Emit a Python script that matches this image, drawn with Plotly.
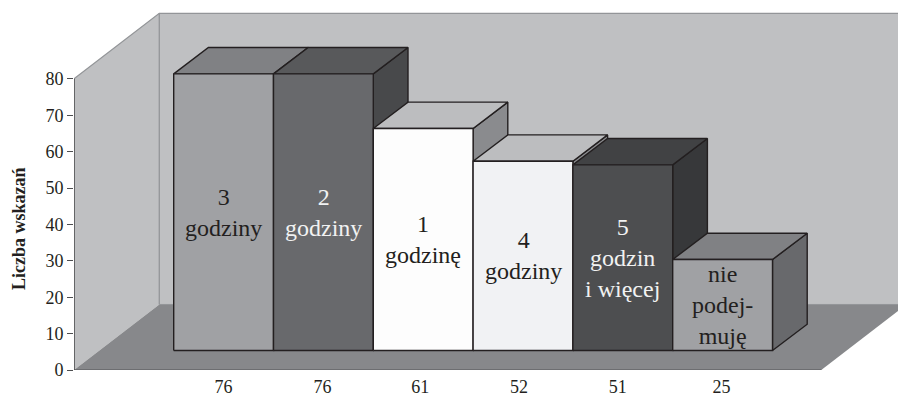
import plotly.graph_objects as go

# Survey results: number of answers per category, in chart order
values = [76, 76, 61, 52, 51, 25]
bar_labels = ["3<br>godziny", "2<br>godziny", "1<br>godzinę", "4<br>godziny",
              "5<br>godzin<br>i więcej", "nie<br>podej-<br>muję"]
tick_labels = ["76", "76", "61", "52", "51", "25"]
y_ticks = [0, 10, 20, 30, 40, 50, 60, 70, 80]

front_colors = ["#a0a1a4", "#68696c", "#fdfdfd", "#f1f2f4", "#4d4e50", "#a0a1a4"]
top_colors = ["#808184", "#58595b", "#bcbdbf", "#bcbdbf", "#414244", "#808184"]
side_colors = ["#68696c", "#48494b", "#8a8b8e", "#8a8b8e", "#37383a", "#68696c"]
text_colors = ["#231f20", "#f1f2f2", "#231f20", "#231f20", "#f1f2f2", "#231f20"]

# Pixel layout of the plotting frame and its scales
WIDTH, HEIGHT = 898, 397
LEFT, BOTTOM_MARGIN = 74, 27
PX_PER_UNIT = 3.64
PX_PER_SLOT = 99.8
FIRST_BAR_PX = 173.7
PLOT_H = HEIGHT - BOTTOM_MARGIN
SERIF = "'Times New Roman', 'Liberation Serif', Times, serif"

x_min = (LEFT - FIRST_BAR_PX) / PX_PER_SLOT
x_max = (WIDTH - FIRST_BAR_PX) / PX_PER_SLOT
y_max = PLOT_H / PX_PER_UNIT

# Oblique projection: depth offsets expressed in axis units
BAR_DX, BAR_DY = 34.7 / PX_PER_SLOT, 26.3 / PX_PER_UNIT
WALL_DX, WALL_DY = 85.3 / PX_PER_SLOT, 18.0
BAR_BASE = 5.36
FLOOR_RIGHT = x_min + 747.3 / PX_PER_SLOT
WALL_HEIGHT = 80
tick_positions = [0.5, 1.49, 2.47, 3.46, 4.45, 5.49]

EDGE = "#231f20"
WALL = "#bfc0c2"
WALL_EDGE = "#939598"
FLOOR = "#87888b"

fig = go.Figure()


def polygon(xs, ys, fill, line=EDGE, width=1.4):
    fig.add_trace(go.Scatter(
        x=xs + xs[:1], y=ys + ys[:1], mode="lines", fill="toself", fillcolor=fill,
        line=dict(color=line, width=width), hoverinfo="skip", showlegend=False,
        cliponaxis=False if line != FLOOR else True,
    ))


def segment(xs, ys, color, width):
    fig.add_trace(go.Scatter(
        x=xs, y=ys, mode="lines", line=dict(color=color, width=width),
        hoverinfo="skip", showlegend=False, cliponaxis=False,
    ))


# Back wall, side wall and floor
polygon([x_min + WALL_DX, x_max + 1, x_max + 1, x_min + WALL_DX],
        [WALL_DY + WALL_HEIGHT, WALL_DY + WALL_HEIGHT, WALL_DY, WALL_DY],
        WALL, line=WALL, width=0)
polygon([x_min, x_min + WALL_DX, x_min + WALL_DX, x_min],
        [WALL_HEIGHT, WALL_HEIGHT + WALL_DY, WALL_DY, 0],
        WALL, line=WALL, width=0)
polygon([x_min, FLOOR_RIGHT, FLOOR_RIGHT + WALL_DX, x_min + WALL_DX],
        [0, 0, WALL_DY, WALL_DY],
        FLOOR, line=FLOOR, width=0)

segment([x_min, x_min + WALL_DX, x_max], [WALL_HEIGHT, WALL_HEIGHT + WALL_DY, WALL_HEIGHT + WALL_DY],
        WALL_EDGE, 1.3)
segment([x_min + WALL_DX, x_min + WALL_DX], [WALL_DY, WALL_HEIGHT + WALL_DY], WALL_EDGE, 1.3)
segment([x_min + WALL_DX, x_max], [WALL_DY, WALL_DY], WALL_EDGE, 1)
segment([x_min, FLOOR_RIGHT], [0, 0], "#6d6e71", 1.8)
segment([x_min, x_min], [0, WALL_HEIGHT], "#4d4e50", 1.6)

# Boxes run left to right so each front face covers its neighbour's side
for i, v in enumerate(values):
    x0, x1 = i, i + 1
    y0, y1 = BAR_BASE, BAR_BASE + v
    polygon([x1, x1 + BAR_DX, x1 + BAR_DX, x1],
            [y0, y0 + BAR_DY, y1 + BAR_DY, y1], side_colors[i])
    polygon([x0, x0 + BAR_DX, x1 + BAR_DX, x1],
            [y1, y1 + BAR_DY, y1 + BAR_DY, y1], top_colors[i])
    polygon([x0, x1, x1, x0], [y0, y0, y1, y1], front_colors[i])
    fig.add_annotation(
        x=i + 0.5, y=BAR_BASE + v / 2, text=bar_labels[i], showarrow=False,
        font=dict(family=SERIF, size=24, color=text_colors[i]),
        xanchor="center", yanchor="middle", align="center",
    )

fig.add_annotation(
    xref="paper", yref="paper", x=-0.0675, y=0.382, text="<b>Liczba wskazań</b>",
    textangle=-90, showarrow=False, xanchor="center", yanchor="middle",
    font=dict(family=SERIF, size=18, color=EDGE),
)

fig.update_layout(
    width=WIDTH, height=HEIGHT,
    margin=dict(l=LEFT, r=0, t=0, b=BOTTOM_MARGIN, autoexpand=False),
    paper_bgcolor="white", plot_bgcolor="white",
    showlegend=False,
    font=dict(family=SERIF, color=EDGE),
    xaxis=dict(
        range=[x_min, x_max], showgrid=False, zeroline=False, showline=False,
        tickmode="array", tickvals=tick_positions, ticktext=tick_labels,
        ticks="", tickfont=dict(family=SERIF, size=18, color=EDGE), ticklabelstandoff=4,
    ),
    yaxis=dict(
        range=[0, y_max], showgrid=False, zeroline=False, showline=False,
        tickmode="array", tickvals=y_ticks, ticks="outside", ticklen=6, tickwidth=1.2,
        tickcolor="#4d4e50", tickfont=dict(family=SERIF, size=18, color=EDGE),
    ),
)

fig.write_html("out.html")
